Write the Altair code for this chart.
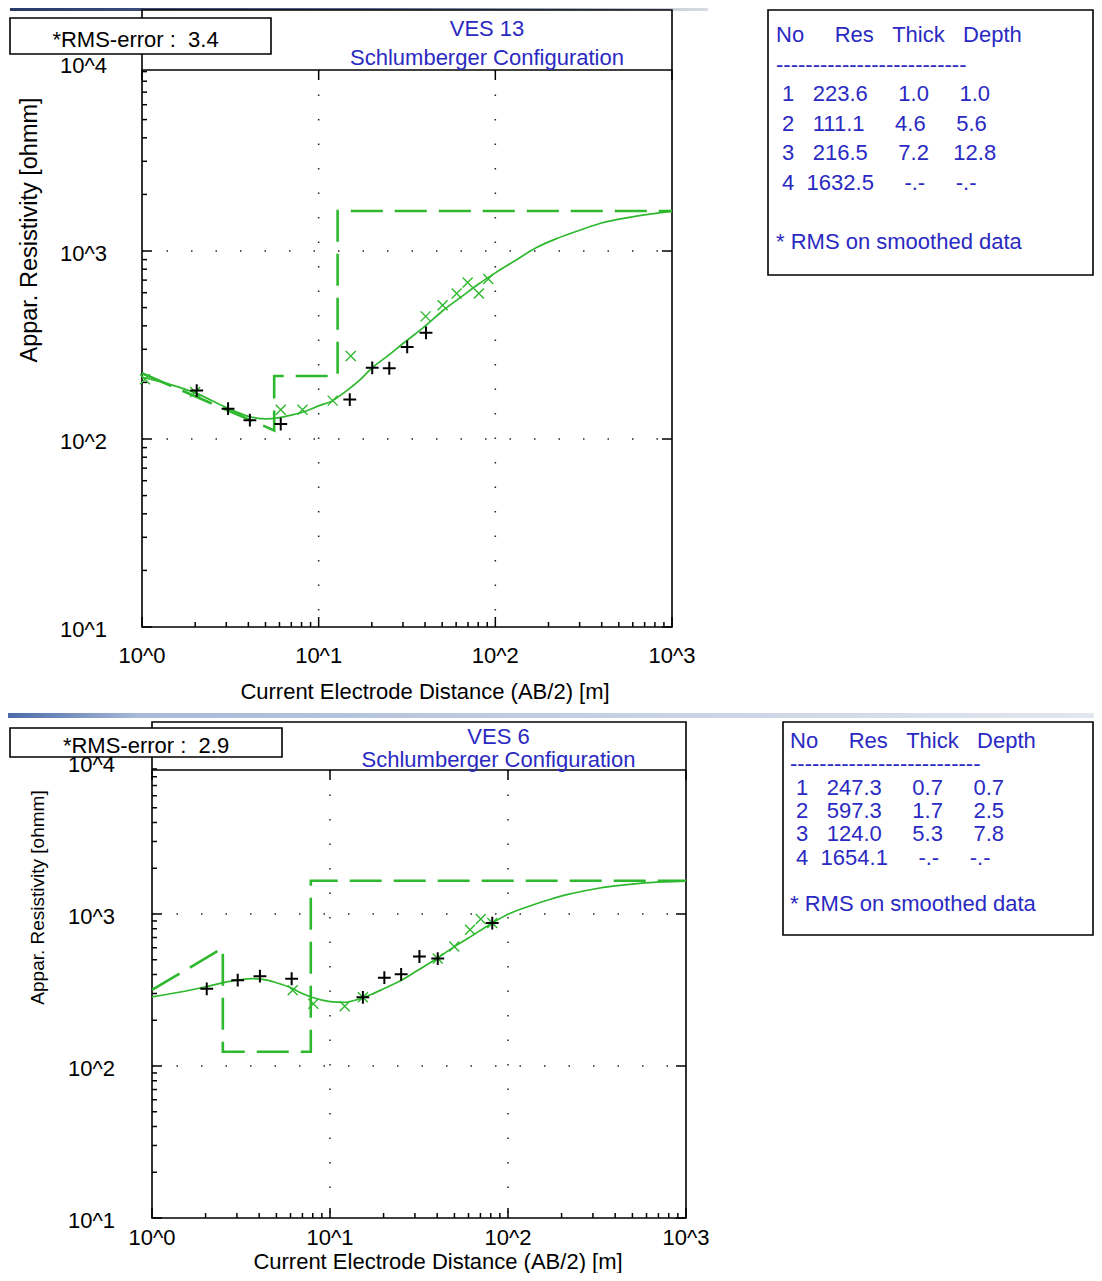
import math
import altair as alt
import pandas as pd

FONT = "Liberation Sans"
GREEN = "#2eb82e"
BLUE = "#2a2ac2"
NB = "\u00a0"
ZW = "\u200b"

# ---------------- data: VES 13 ----------------
ves13_title = "VES 13"
ves13_rms = 3.4
ves13_curve_x = [1.0, 1.5, 2.0, 3.0, 4.0, 5.0, 6.0, 7.0, 8.5, 10, 12, 14, 17, 20, 25, 30, 40, 50, 65, 80,
                 100, 130, 170, 220, 300, 400, 550, 750, 1000]
ves13_curve_y = [213, 193, 176, 147, 132, 128, 130, 134, 141, 150, 160, 177, 205, 238, 280, 322, 398, 478, 575, 665,
                 765, 890, 1040, 1160, 1290, 1410, 1500, 1570, 1626]
ves13_obs_x = [2.04, 3.07, 4.08, 6.1, 15.0, 20.1, 25.1, 31.7, 40.5]
ves13_obs_y = [181, 145, 126, 120, 162, 239, 238, 309, 367]
ves13_smooth_x = [1.04, 2.0, 6.1, 8.1, 12.0, 15.2, 40.3, 50.3, 60.4, 69.7, 80.7, 91.2]
ves13_smooth_y = [208, 178, 143, 143, 160, 276, 449, 514, 594, 680, 594, 710]
ves13_res = [223.6, 111.1, 216.5, 1632.5]
ves13_thick = [1.0, 4.6, 7.2]
ves13_depth = [1.0, 5.6, 12.8]

# ---------------- data: VES 6 ----------------
ves6_title = "VES 6"
ves6_rms = 2.9
ves6_curve_x = [1.0, 1.5, 2.0, 3.0, 3.7, 4.5, 5.0, 6.0, 7.0, 8.0, 10, 12, 14, 17, 20, 25, 30, 40, 50, 60, 80,
                100, 130, 170, 220, 300, 400, 550, 750, 1000]
ves6_curve_y = [285, 309, 332, 367, 376, 366, 353, 328, 300, 282, 265, 262, 272, 295, 322, 365, 415, 512, 610, 695, 860,
                995, 1120, 1240, 1350, 1455, 1530, 1590, 1625, 1645]
ves6_obs_x = [2.03, 3.03, 4.04, 6.09, 15.3, 20.2, 25.1, 31.8, 40.3, 81.6]
ves6_obs_y = [322, 367, 390, 375, 283, 381, 401, 525, 509, 871]
ves6_smooth_x = [6.17, 8.06, 12.1, 15.3, 40.3, 49.9, 61.2, 70.3, 81.6]
ves6_smooth_y = [315, 257, 247, 283, 509, 611, 787, 927, 871]
ves6_res = [247.3, 597.3, 124.0, 1654.1]
ves6_thick = [0.7, 1.7, 5.3]
ves6_depth = [0.7, 2.5, 7.8]

# ---------------- axes / ticks ----------------
x_tick_values = [1, 10, 100, 1000]
x_tick_labels = ["10^0", "10^1", "10^2", "10^3"]
y_tick_values = [10, 100, 1000, 10000]
y_tick_labels = ["10^1", "10^2", "10^3", "10^4"]
x_major = [1, 10, 100, 1000]
x_minor = [2, 3, 4, 5, 6, 7, 8, 9, 20, 30, 40, 50, 60, 70, 80, 90, 200, 300, 400, 500, 600, 700, 800, 900]
y_major = [10, 100, 1000]
y_minor = [20, 30, 40, 50, 60, 70, 80, 90, 200, 300, 400, 500, 600, 700, 800, 900,
           2000, 3000, 4000, 5000, 6000, 7000, 8000, 9000]
x_grid = [10, 100]
y_grid = [100, 1000]
x_title = "Current Electrode Distance (AB/2) [m]"
y_title = "Appar. Resistivity [ohmm]"
config_name = "Schlumberger Configuration"
footnote = "* RMS on smoothed data"

XPATH = "M-1,-1L1,1M-1,1L1,-1"
PLUS = "M-1,0L1,0M0,-1L0,1"
X_MIN, X_MAX = 1, 1000
Y_MIN, Y_MAX = 10, 10000

TOTAL_W, TOTAL_H = 1086, 1265


def model_points(res, depth):
    pts = [(depth[0], res[0]), (depth[1], res[1])]
    for i in range(1, len(depth)):
        pts.append((depth[i], res[i + 1]))
        nxt = depth[i + 1] if i + 1 < len(depth) else X_MAX
        pts.append((nxt, res[i + 1]))
    # clip the first segment at the left edge of the plot (log-log straight line)
    if pts[0][0] < X_MIN:
        (x0, y0), (x1, y1) = pts[0], pts[1]
        t = (math.log10(X_MIN) - math.log10(x0)) / (math.log10(x1) - math.log10(x0))
        pts[0] = (X_MIN, 10 ** (math.log10(y0) + t * (math.log10(y1) - math.log10(y0))))
    return pd.DataFrame({"x": [p[0] for p in pts], "y": [p[1] for p in pts], "i": list(range(len(pts)))})


def table_lines(res, thick, depth):
    header = "No" + " " * 5 + "Res" + " " * 3 + "Thick" + " " * 3 + "Depth"
    lines = [header, "-" * 26]
    for k in range(len(res)):
        t = f"{thick[k]:7.1f}" if k < len(thick) else f"{'-.-':>7}"
        d = f"{depth[k]:7.1f}" if k < len(depth) else f"{'-.-':>7}"
        lines.append(ZW + f"{k + 1:2d} {res[k]:7.1f} {t} {d}")
    lines += [ZW + " ", footnote]
    return [s.replace(" ", NB) for s in lines]


def build_layers(d, g):
    xs = alt.Scale(type="log", domain=[X_MIN, X_MAX], range=[g["x0"], g["x1"]], nice=False)
    ys = alt.Scale(type="log", domain=[Y_MIN, Y_MAX], range=[g["y10"], g["y1e4"]], nice=False)

    def X(f):
        return alt.X(f, type="quantitative", scale=xs, axis=None)

    def Y(f):
        return alt.Y(f, type="quantitative", scale=ys, axis=None)

    x0, x1, ybot, sep = g["x0"], g["x1"], g["y10"], g["sep"]
    one = pd.DataFrame({"k": [0]})
    L = []
    # frame + separator
    L.append(alt.Chart(one).mark_rect(fill="white", stroke="black", strokeWidth=1.6).encode(
        x=alt.value(x0), x2=alt.value(x1), y=alt.value(g["ftop"]), y2=alt.value(ybot)))
    L.append(alt.Chart(one).mark_rule(color="black", strokeWidth=1.6).encode(
        x=alt.value(x0), x2=alt.value(x1), y=alt.value(sep)))
    # dotted grid
    dots = dict(color="#222222", strokeWidth=1.5, strokeDash=[1.5, 23])
    L.append(alt.Chart(pd.DataFrame({"v": x_grid})).mark_rule(**dots).encode(
        x=X("v"), y=alt.value(sep), y2=alt.value(ybot)))
    L.append(alt.Chart(pd.DataFrame({"v": y_grid})).mark_rule(**dots).encode(
        y=Y("v"), x=alt.value(x0), x2=alt.value(x1)))
    # inward ticks
    tk = dict(color="black", strokeWidth=1.5)
    L.append(alt.Chart(pd.DataFrame({"v": x_major})).mark_rule(**tk).encode(
        x=X("v"), y=alt.value(ybot), y2=alt.value(ybot - 10)))
    L.append(alt.Chart(pd.DataFrame({"v": x_major})).mark_rule(**tk).encode(
        x=X("v"), y=alt.value(sep), y2=alt.value(sep + 10)))
    L.append(alt.Chart(pd.DataFrame({"v": x_minor})).mark_rule(**tk).encode(
        x=X("v"), y=alt.value(ybot), y2=alt.value(ybot - 5)))
    L.append(alt.Chart(pd.DataFrame({"v": y_major})).mark_rule(**tk).encode(
        y=Y("v"), x=alt.value(x0), x2=alt.value(x0 + 10)))
    L.append(alt.Chart(pd.DataFrame({"v": y_major})).mark_rule(**tk).encode(
        y=Y("v"), x=alt.value(x1), x2=alt.value(x1 - 10)))
    L.append(alt.Chart(pd.DataFrame({"v": y_minor})).mark_rule(**tk).encode(
        y=Y("v"), x=alt.value(x0), x2=alt.value(x0 + 5)))
    # tick labels
    L.append(alt.Chart(pd.DataFrame({"v": x_tick_values, "lab": x_tick_labels})).mark_text(
        font=FONT, fontSize=22, align="center", baseline="alphabetic", color="black").encode(
        x=X("v"), y=alt.value(g["xlab_y"]), text="lab:N"))
    L.append(alt.Chart(pd.DataFrame({"v": y_tick_values, "lab": y_tick_labels})).mark_text(
        font=FONT, fontSize=22, align="right", baseline="alphabetic", dy=9.5, color="black").encode(
        y=Y("v"), x=alt.value(g["ylab_x"]), text="lab:N"))
    # axis titles
    L.append(alt.Chart(pd.DataFrame({"t": [x_title]})).mark_text(
        font=FONT, fontSize=22, align="center", baseline="alphabetic", color="black").encode(
        x=alt.value(g["xt_x"]), y=alt.value(g["xt_y"]), text="t:N"))
    L.append(alt.Chart(pd.DataFrame({"t": [y_title]})).mark_text(
        font=FONT, fontSize=g["yt_fs"], align="center", baseline="alphabetic", angle=270, color="black").encode(
        x=alt.value(g["yt_x"]), y=alt.value(g["yt_y"]), text="t:N"))
    # layered model (dashed)
    L.append(alt.Chart(model_points(d["res"], d["depth"])).mark_line(
        color=GREEN, strokeWidth=2.6, strokeDash=[32, 12]).encode(
        x=X("x"), y=Y("y"), order=alt.Order("i:Q")))
    # fitted curve
    L.append(alt.Chart(pd.DataFrame({"x": d["curve_x"], "y": d["curve_y"]})).mark_line(
        color=GREEN, strokeWidth=1.7, interpolate="monotone").encode(x=X("x"), y=Y("y")))
    # smoothed data (green x)
    L.append(alt.Chart(pd.DataFrame({"x": d["smooth_x"], "y": d["smooth_y"]})).mark_point(
        shape=XPATH, size=100, color=GREEN, strokeWidth=1.4, filled=False, opacity=1).encode(
        x=X("x"), y=Y("y")))
    # field data (black +)
    L.append(alt.Chart(pd.DataFrame({"x": d["obs_x"], "y": d["obs_y"]})).mark_point(
        shape=PLUS, size=165, color="black", strokeWidth=2, filled=False, opacity=1).encode(
        x=X("x"), y=Y("y")))
    # RMS box
    L.append(alt.Chart(one).mark_rect(fill="white", stroke="black", strokeWidth=1.6).encode(
        x=alt.value(g["rms"][0]), y=alt.value(g["rms"][1]), x2=alt.value(g["rms"][2]), y2=alt.value(g["rms"][3])))
    rms_text = ("*RMS-error :  " + f"{d['rms']:.1f}").replace(" ", NB)
    L.append(alt.Chart(pd.DataFrame({"t": [rms_text]})).mark_text(
        font=FONT, fontSize=22, align="center", baseline="alphabetic", color="black").encode(
        text="t:N", x=alt.value(g["rms_t"][0]), y=alt.value(g["rms_t"][1])))
    # title
    L.append(alt.Chart(one).mark_text(
        text=[d["title"], config_name], lineHeight=g["title_lh"], font=FONT, fontSize=22,
        align="center", baseline="alphabetic", color=BLUE).encode(
        x=alt.value(g["title"][0]), y=alt.value(g["title"][1])))
    # layer table
    L.append(alt.Chart(one).mark_rect(fill="white", stroke="black", strokeWidth=1.6).encode(
        x=alt.value(g["tab"][0]), y=alt.value(g["tab"][1]), x2=alt.value(g["tab"][2]), y2=alt.value(g["tab"][3])))
    L.append(alt.Chart(one).mark_text(
        text=table_lines(d["res"], d["thick"], d["depth"]), lineHeight=g["tab_lh"], font=FONT, fontSize=22,
        align="left", baseline="alphabetic", color=BLUE).encode(
        x=alt.value(g["tab_t"][0]), y=alt.value(g["tab_t"][1])))
    return L


top_data = dict(title=ves13_title, rms=ves13_rms, curve_x=ves13_curve_x, curve_y=ves13_curve_y,
                obs_x=ves13_obs_x, obs_y=ves13_obs_y, smooth_x=ves13_smooth_x, smooth_y=ves13_smooth_y,
                res=ves13_res, thick=ves13_thick, depth=ves13_depth)
bot_data = dict(title=ves6_title, rms=ves6_rms, curve_x=ves6_curve_x, curve_y=ves6_curve_y,
                obs_x=ves6_obs_x, obs_y=ves6_obs_y, smooth_x=ves6_smooth_x, smooth_y=ves6_smooth_y,
                res=ves6_res, thick=ves6_thick, depth=ves6_depth)

# panel geometry in view pixels (view origin = page (8, 8))
top_geo = dict(x0=134, x1=664, y10=619, y1e4=55, sep=62, ftop=2,
               xlab_y=655, ylab_x=99, xt_x=417, xt_y=691, yt_fs=23.5, yt_x=28.5, yt_y=222,
               rms=(2, 10, 263, 46), rms_t=(127.5, 39), title=(479, 28), title_lh=29,
               tab=(760, 2, 1085, 267), tab_t=(768, 34), tab_lh=29.5)
bot_geo = dict(x0=144, x1=678, y10=1210, y1e4=754, sep=762, ftop=714,
               xlab_y=1237, ylab_x=107, xt_x=430, xt_y=1261, yt_fs=19, yt_x=35.8, yt_y=889.5,
               rms=(2, 720, 274, 749), rms_t=(138, 745), title=(490.5, 736), title_lh=23,
               tab=(775, 714, 1085, 927), tab_t=(782, 740), tab_lh=23.33)

# window bars of the original screenshot
bar_top = alt.Chart(pd.DataFrame({"k": [0]})).mark_rect(
    fill=alt.LinearGradient(gradient="linear", x1=0, x2=1, y1=0, y2=0,
                            stops=[alt.GradientStop(color="#2a3a66", offset=0),
                                   alt.GradientStop(color="#5a6a90", offset=0.5),
                                   alt.GradientStop(color="#d8dce4", offset=1)])).encode(
    x=alt.value(2), x2=alt.value(700), y=alt.value(0), y2=alt.value(3))
bar_mid = alt.Chart(pd.DataFrame({"k": [0]})).mark_rect(
    fill=alt.LinearGradient(gradient="linear", x1=0, x2=1, y1=0, y2=0,
                            stops=[alt.GradientStop(color="#4a6aa8", offset=0),
                                   alt.GradientStop(color="#a8bad8", offset=0.12),
                                   alt.GradientStop(color="#e2e6ee", offset=1)])).encode(
    x=alt.value(0), x2=alt.value(TOTAL_W), y=alt.value(705), y2=alt.value(710))

layers = [bar_top, bar_mid] + build_layers(top_data, top_geo) + build_layers(bot_data, bot_geo)

chart = alt.layer(*layers).resolve_scale(x="independent", y="independent").properties(
    width=TOTAL_W, height=TOTAL_H, padding=0, autosize=alt.AutoSizeParams(type="none")
).configure_view(stroke=None)

chart.save("out.html", embed_options={"renderer": "svg", "actions": False})
